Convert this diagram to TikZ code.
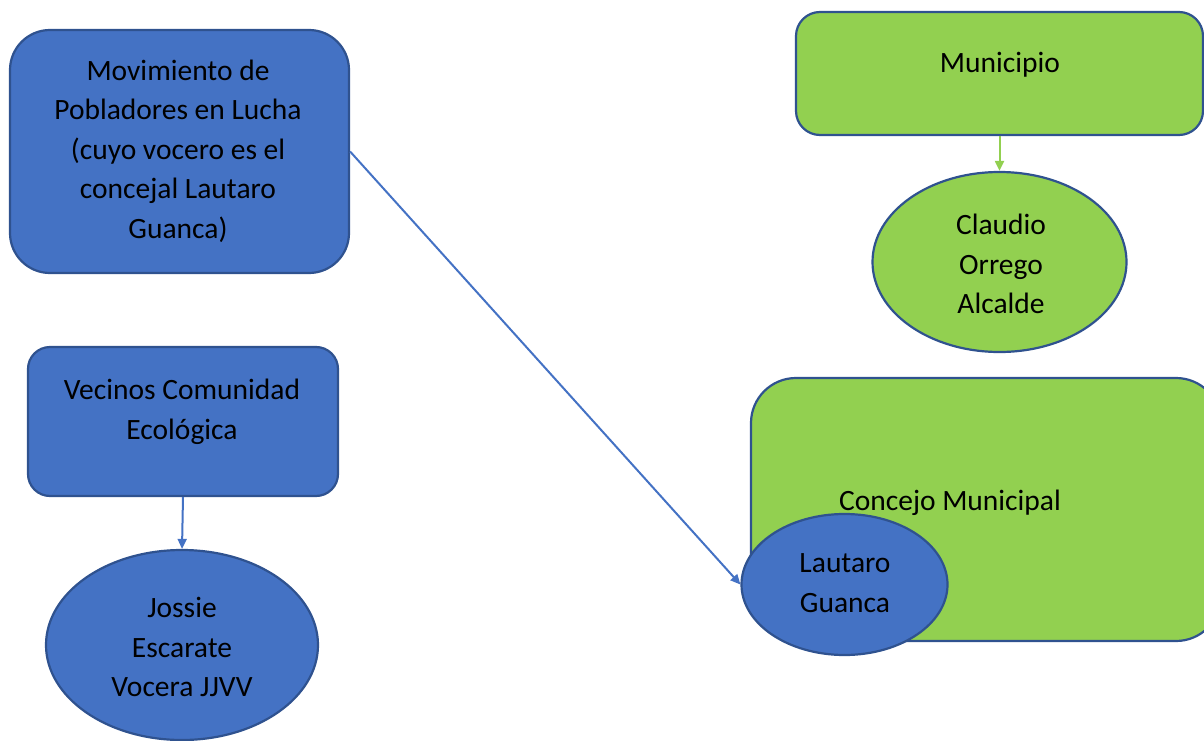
\documentclass[tikz,border=0pt]{standalone}
\usepackage{fontspec}
\setmainfont{Carlito}
\usetikzlibrary{shapes.geometric,arrows.meta}
\definecolor{bfill}{HTML}{4472C4}
\definecolor{gfill}{HTML}{92D050}
\definecolor{edgec}{HTML}{2F528F}
\begin{document}
\begin{tikzpicture}[x=1pt,y=-1pt,
  shapebox/.style={draw=edgec,line width=2.2pt,rectangle,inner sep=0pt},
  oval/.style={draw=edgec,line width=2.2pt,ellipse,inner sep=0pt},
  lbl/.style={align=center,inner sep=0pt,font=\fontsize{29.5}{39.5}\selectfont},
  conn/.style={line width=2pt,-{Triangle[length=10pt,width=9pt]}}]
\useasboundingbox (0,0) rectangle (1204,741);
\clip (0,0) rectangle (1204,741);
% shapes
\node[shapebox,fill=bfill,rounded corners=40pt,minimum width=339pt,minimum height=243pt] (mov) at (179.5,151.5) {};
\node[shapebox,fill=bfill,rounded corners=22pt,minimum width=310pt,minimum height=149pt] (vec) at (183,421.5) {};
\node[oval,fill=bfill,minimum width=272pt,minimum height=190pt] (jos) at (182,645) {};
\node[shapebox,fill=gfill,rounded corners=24pt,minimum width=407pt,minimum height=123pt] (muni) at (999.5,73.5) {};
\node[oval,fill=gfill,minimum width=254pt,minimum height=180pt] (clau) at (999.5,262) {};
\node[shapebox,fill=gfill,rounded corners=45pt,minimum width=470pt,minimum height=263pt] (conc) at (986,509.5) {};
\node[oval,fill=bfill,minimum width=206pt,minimum height=141pt] (laut) at (844.5,584.5) {};
% texts
\node[lbl] (movt) at (178,151) {Movimiento de\\Pobladores en Lucha\\(cuyo vocero es el\\concejal Lautaro\\Guanca)};
\node[lbl] (vect) at (182,412) {Vecinos Comunidad\\Ecológica};
\node[lbl] (jost) at (182,647) {Jossie\\Escarate\\Vocera JJVV};
\node[lbl] (munit) at (1000,65) {Municipio};
\node[lbl] (claut) at (1001,264) {Claudio\\Orrego\\Alcalde};
\node[lbl,anchor=base] (conct) at (950,510) {Concejo Municipal};
\node[lbl] (lautt) at (845,583) {Lautaro\\Guanca};
% connectors
\draw[conn,draw=bfill,fill=bfill] (mov.east) -- (laut.west);
\draw[conn,draw=bfill,fill=bfill] (vec.south) -- (jos.north);
\draw[conn,draw=gfill,fill=gfill] (muni.south) -- (clau.north);
\end{tikzpicture}
\end{document}
